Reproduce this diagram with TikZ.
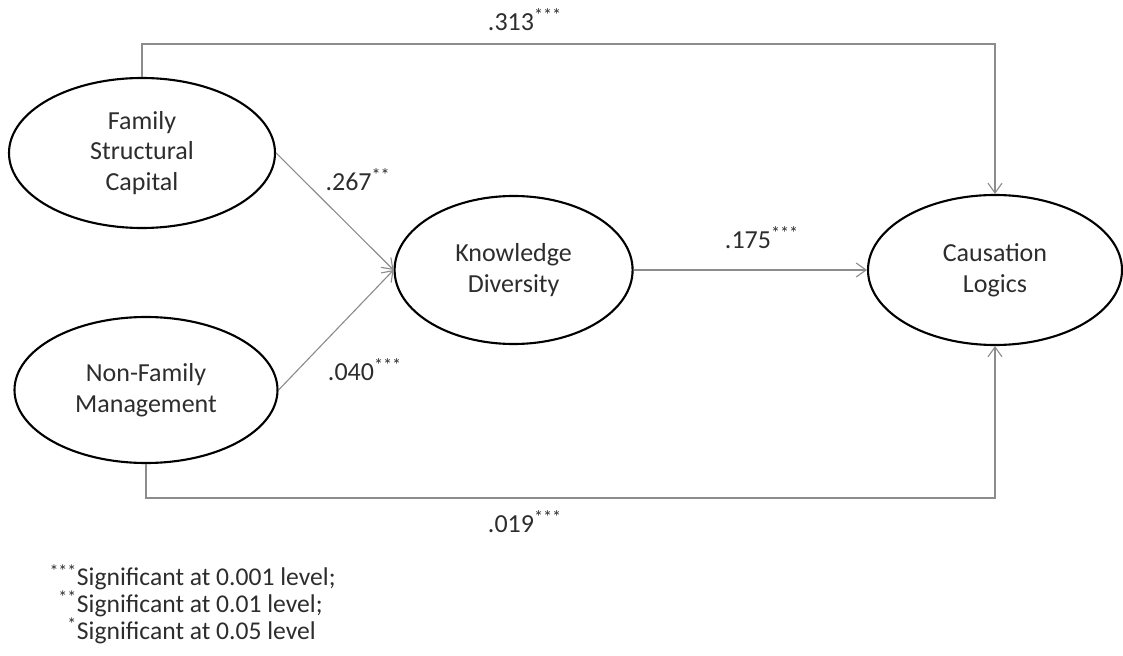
\documentclass[tikz,border=0pt]{standalone}
\usepackage{fontspec}
\setmainfont{Carlito}
\usetikzlibrary{arrows.meta,positioning,shapes.geometric}
\definecolor{linkgray}{RGB}{140,140,140}
\definecolor{textgray}{RGB}{45,45,45}
\newcommand{\sig}[1]{\textsuperscript{#1}}

\begin{document}
\begin{tikzpicture}[
    construct/.style={ellipse, draw=black, line width=1.5pt, inner sep=0pt,
      align=center, text=textgray, font=\fontsize{18.5}{22}\selectfont},
    link/.style={draw=linkgray, line width=0.8pt, -{Straight Barb[length=7pt,width=10pt]}},
    coef/.style={text=textgray, font=\fontsize{18.5}{22}\selectfont}]
  \useasboundingbox (0,0) rectangle (28.075,-16.4);
  % Constructs
  \node[construct, minimum width=6.65cm, minimum height=3.75cm] (fsc) at (3.55,-3.825) {Family\\Structural\\Capital};
  \node[construct, minimum width=6.575cm, minimum height=3.65cm] (nfm) at (3.65,-9.75) {Non-Family\\Management};
  \node[construct, minimum width=5.95cm, minimum height=3.7cm] (kd) at (12.84,-6.75) {Knowledge\\Diversity};
  \node[construct, minimum width=6.35cm, minimum height=3.75cm] (cl) at (24.875,-6.75) {Causation\\Logics};
  % Paths
  \coordinate (topbend) at (13,-1.1);
  \coordinate (botbend) at (13,-12.45);
  \draw[link] (fsc.north) |- (topbend) -| (cl.north);
  \draw[link] (nfm.south) |- (botbend) -| (cl.south);
  \draw[link] (fsc.east) -- (kd.west);
  \draw[link] (nfm.east) -- (kd.west);
  \draw[link] (kd.east) -- (cl.west);
  % Coefficients
  \node[coef] (c313) at (13.125,-0.5) {.313\sig{***}};
  \node[coef] (c267) at (8.95,-4.5) {.267\sig{**}};
  \node[coef] (c040) at (9.125,-9.25) {.040\sig{***}};
  \node[coef] (c175) at (19.05,-5.95) {.175\sig{***}};
  \node[coef] (c019) at (13.125,-13.05) {.019\sig{***}};
  % Legend
  \node[coef, anchor=west, align=left, font=\fontsize{18.2}{19}\selectfont] (legend) at (1.8,-15.1)
    {\llap{\sig{***}}Significant at 0.001 level;\\
     \llap{\sig{**}}Significant at 0.01 level;\\
     \llap{\sig{*}}Significant\ at 0.05 level};
\end{tikzpicture}
\end{document}
